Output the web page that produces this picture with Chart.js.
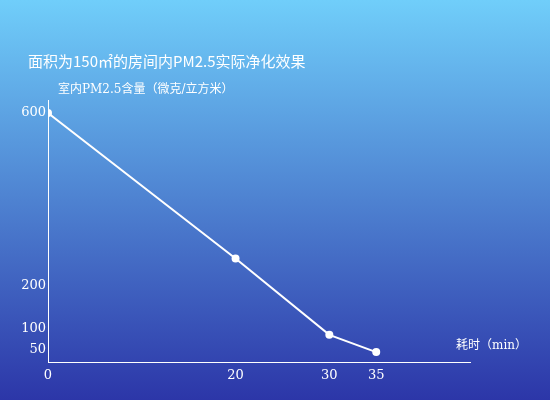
<!DOCTYPE html>
<html>
<head>
<meta charset="utf-8">
<script src="https://cdn.jsdelivr.net/npm/chart.js@4"></script>
<style>
  body { margin: 0; }
  #wrap { width: 550px; height: 400px; background: linear-gradient(#70cefa, #2c36a8); }
</style>
</head>
<body>
<div id="wrap"><canvas id="pm" width="550" height="400"></canvas></div>
<script>
const minutes = [0, 20, 30, 35];
const pmValues = [600, 262, 85, 45];
const xTicks = [0, 20, 30, 35];
const yTicks = [50, 100, 200, 600];

const titleText = '面积为150㎡的房间内PM2.5实际净化效果';
const yName = '室内PM2.5含量（微克/立方米）';
const xName = '耗时（min）';

const serif = "'DejaVu Serif', 'Noto Sans CJK SC', serif";

const labels = {
    id: 'labels',
    afterDraw(chart) {
        const ctx = chart.ctx;
        ctx.save();
        ctx.fillStyle = '#fff';
        ctx.textBaseline = 'middle';
        ctx.font = "15px 'Noto Sans CJK SC', sans-serif";
        ctx.fillText(titleText, 28, 61);
        ctx.font = "12px " + serif;
        ctx.fillText(yName, 58, 90);
        ctx.fillText(xName, 456, 346);
        ctx.restore();
    }
};

new Chart(document.getElementById('pm'), {
    type: 'line',
    data: {
        datasets: [{
            data: minutes.map((m, i) => ({x: m, y: pmValues[i]})),
            borderColor: '#fff',
            borderWidth: 2,
            pointBackgroundColor: '#fff',
            pointBorderColor: '#fff',
            pointRadius: 3,
            tension: 0
        }]
    },
    options: {
        responsive: false,
        animation: false,
        layout: { padding: { top: 100, right: 80 } },
        plugins: { legend: { display: false }, tooltip: { enabled: false } },
        scales: {
            x: {
                type: 'linear', min: 0, max: 45,
                afterBuildTicks: s => { s.ticks = xTicks.map(v => ({value: v})); },
                afterFit: s => { s.height = 38; },
                grid: { display: false, drawTicks: false },
                border: { color: '#fff', width: 1 },
                ticks: { color: '#fff', font: { family: serif, size: 13 }, padding: 6 }
            },
            y: {
                min: 22, max: 630,
                afterBuildTicks: s => { s.ticks = yTicks.map(v => ({value: v})); },
                afterFit: s => { s.width = 48; },
                grid: { display: false, drawTicks: false },
                border: { color: '#fff', width: 1 },
                ticks: { color: '#fff', font: { family: serif, size: 13 }, padding: 2 }
            }
        }
    },
    plugins: [labels]
});
</script>
</body>
</html>
